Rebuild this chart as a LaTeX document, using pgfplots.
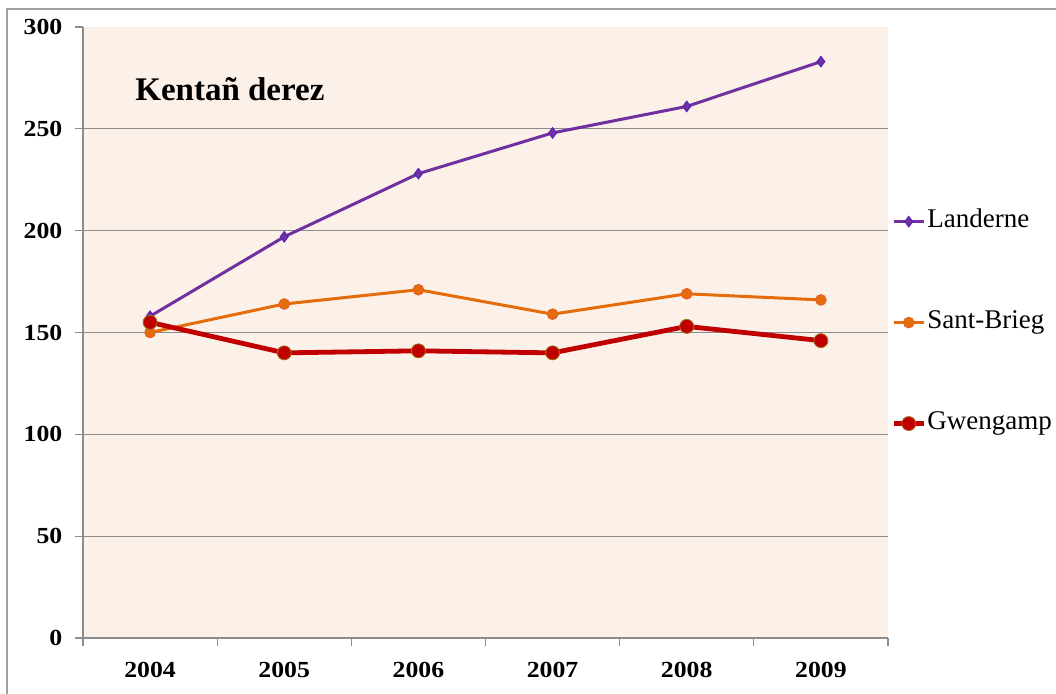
\documentclass[border=0pt]{standalone}
\usepackage{fontspec}
\setmainfont{Liberation Serif}
\newfontfamily\tickfont{Liberation Serif}[FakeStretch=1.12]
\usepackage{pgfplots}
\pgfplotsset{compat=1.18}
\definecolor{cLand}{HTML}{7030A0}
\definecolor{cSant}{HTML}{E46C0A}
\definecolor{cGwen}{HTML}{C00000}
\definecolor{bgc}{HTML}{FCF1E9}
\definecolor{gridc}{HTML}{8C8C8C}
\definecolor{framec}{HTML}{A0A0A0}
\begin{document}
\begin{tikzpicture}
\path[use as bounding box] (-41.5pt,-27.5pt) rectangle (486.5pt,319pt);
\draw[framec, line width=0.75pt] (-38pt,-30pt) -- (-38pt,314.5pt) -- (490pt,314.5pt);
\begin{axis}[
  scale only axis, width=402.5pt, height=305.5pt,
  at={(0,0)}, anchor=south west,
  xmin=-0.5, xmax=5.5, ymin=0, ymax=300,
  axis x line*=bottom, axis y line*=left,
  axis line style={draw=gridc, line width=0.6pt, -},
  axis background/.style={fill=bgc},
  tick align=outside,
  major tick length=3.8pt,
  tick style={draw=gridc, line width=0.6pt},
  /pgf/number format/assume math mode=true,
  xtick={-0.5,0.5,...,5.5}, xticklabels={},
  extra x ticks={0,1,2,3,4,5},
  extra x tick labels={2004,2005,2006,2007,2008,2009},
  extra x tick style={tick style={draw=none}},
  ytick={0,50,...,300},
  extra y ticks={50,100,...,250}, extra y tick labels={},
  extra y tick style={ymajorgrids, tick style={draw=none}},
  major grid style={draw=gridc, line width=0.6pt},
  ticklabel style={font=\tickfont\bfseries\fontsize{11.5}{13}\selectfont},
  yticklabel style={xshift=-3pt},
  xticklabel style={yshift=-5pt},
  legend image code/.code={\draw[mark repeat=2,mark phase=2,#1] plot coordinates {(0pt,0pt) (7.5pt,0pt) (15pt,0pt)};},
  legend style={draw=none, fill=none, at={(axis description cs:1.0037,0.7038)}, anchor=north west,
    inner sep=0pt, row sep=37.3pt, font=\fontsize{13.5}{15}\selectfont,
    nodes={inner sep=0.6pt, text height=9pt, text depth=3pt}},
  legend cell align=left,
  clip=false,
]
\addplot[cLand, line width=1.5pt, mark=diamond*, mark size=2.7pt,
  mark options={fill=cLand, draw=cLand!70!blue, line width=0.4pt}]
  coordinates {(0,158) (1,197) (2,228) (3,248) (4,261) (5,283)};
\addlegendentry{Landerne}
\addplot[cSant, line width=1.5pt, mark=*, mark size=2.7pt,
  mark options={fill=cSant, draw=cSant!85!magenta, line width=0.4pt}]
  coordinates {(0,150) (1,164) (2,171) (3,159) (4,169) (5,166)};
\addlegendentry{Sant-Brieg}
\addplot[cGwen, line width=2.4pt, mark=*, mark size=3.5pt,
  mark options={fill=cGwen, draw=olive!60!cGwen, line width=0.4pt}]
  coordinates {(0,155) (1,140) (2,141) (3,140) (4,153) (5,146)};
\addlegendentry{Gwengamp}
\node[anchor=base west, inner sep=0pt, font=\bfseries\fontsize{16.5}{19}\selectfont]
  at (axis description cs:0.0646,0.8805) {Kentañ derez};
\end{axis}
\end{tikzpicture}
\end{document}
